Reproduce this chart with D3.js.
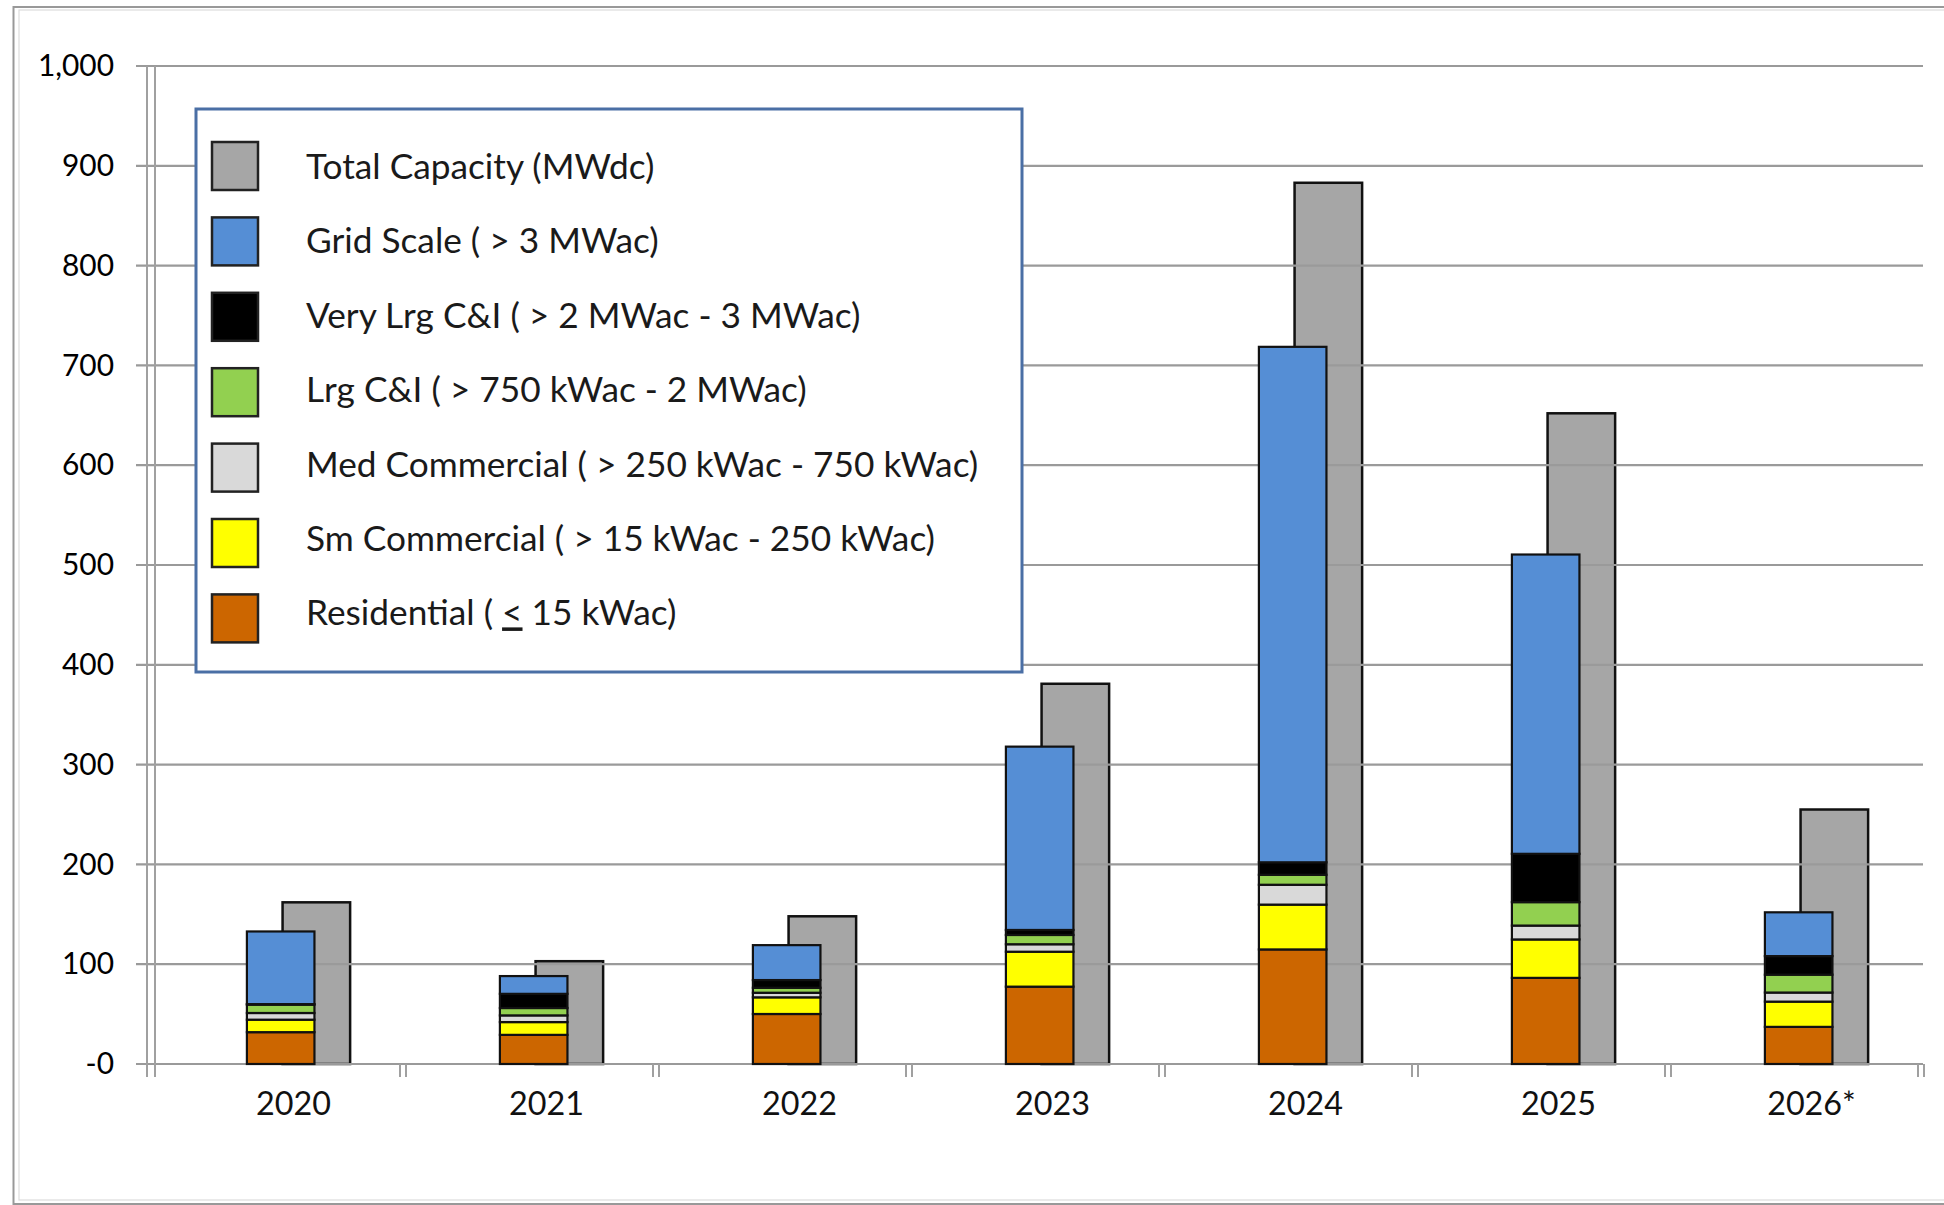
<!DOCTYPE html>
<html><head><meta charset="utf-8">
<script src="https://cdn.jsdelivr.net/npm/d3@7"></script>
<style>
html,body{margin:0;padding:0;background:#fff;}
svg{display:block;font-family:Lato,"Open Sans","DejaVu Sans",sans-serif;}
</style>
</head><body>
<svg id="chart" width="1944" height="1205"></svg>
<script>
// ---------------- DATA ----------------
const years = ["2020", "2021", "2022", "2023", "2024", "2025", "2026*"];
const residential   = [31.9, 29.2, 50.1, 77.5, 114.8, 86.3, 37.2];
const smCommercial  = [12.5, 12.8, 16.7, 35.0, 44.9, 38.5, 25.3];
const medCommercial = [6.7, 6.7, 4.6, 7.5, 19.9, 13.9, 9.1];
const lrgCI         = [8.4, 7.4, 5.0, 9.3, 10.0, 23.5, 17.9];
const veryLrgCI     = [0.5, 14.2, 7.7, 5.0, 12.5, 48.4, 18.6];
const gridScale     = [72.8, 17.8, 35.0, 183.7, 516.5, 299.9, 43.9];
const totalCapacity = [162, 103, 148, 381, 883, 652, 255];

const yTicks      = [0, 100, 200, 300, 400, 500, 600, 700, 800, 900, 1000];
const yTickLabels = ["-0", "100", "200", "300", "400", "500", "600", "700", "800", "900", "1,000"];

const stackKeys = ["residential", "smCommercial", "medCommercial", "lrgCI", "veryLrgCI", "gridScale"];
const legendKeys = ["total", "gridScale", "veryLrgCI", "lrgCI", "medCommercial", "smCommercial", "residential"];
const legendLabels = {
  total: "Total Capacity (MWdc)",
  gridScale: "Grid Scale ( > 3 MWac)",
  veryLrgCI: "Very Lrg C&I ( > 2 MWac - 3 MWac)",
  lrgCI: "Lrg C&I ( > 750 kWac - 2 MWac)",
  medCommercial: "Med Commercial ( > 250 kWac - 750 kWac)",
  smCommercial: "Sm Commercial ( > 15 kWac - 250 kWac)",
  residential: "Residential ( < 15 kWac)"
};

// ---------------- STYLE ----------------
const colors = {
  total: "#a6a6a6",
  gridScale: "#558ed5",
  veryLrgCI: "#000000",
  lrgCI: "#92d050",
  medCommercial: "#d9d9d9",
  smCommercial: "#ffff00",
  residential: "#cc6600"
};

const table = years.map((y, i) => ({
  year: y,
  residential: residential[i],
  smCommercial: smCommercial[i],
  medCommercial: medCommercial[i],
  lrgCI: lrgCI[i],
  veryLrgCI: veryLrgCI[i],
  gridScale: gridScale[i],
  total: totalCapacity[i]
}));
const stacked = d3.stack().keys(stackKeys)(table);

const svg = d3.select("#chart");
const W = 1944, H = 1205;
const plot = {left: 150, right: 1921, top: 66, bottom: 1064};

const x = d3.scaleBand().domain(years).range([plot.left, plot.right]).padding(0);
const y = d3.scaleLinear().domain([0, 1000]).range([plot.bottom, plot.top]);
const step = x.step();
const stackOff = 0.383 * step, totOff = 0.524 * step, barW = 0.267 * step;

function fitSize(text, target) {
  const t = svg.append("text").style("font-size", "100px").text(text);
  const w = t.node().getComputedTextLength();
  t.remove();
  return 100 * target / w;
}
const legendFont = (fitSize("Total Capacity (MWdc)", 350) + fitSize("Med Commercial ( > 250 kWac - 750 kWac)", 670)) / 2;
const yFont = fitSize("900", 52);
const xFont = fitSize("2023", 75);

// outer frame
svg.append("rect").attr("x", 13.5).attr("y", 7).attr("width", W + 20).attr("height", 1197)
  .attr("fill", "none").attr("stroke", "#999").attr("stroke-width", 2);
svg.append("rect").attr("x", 19).attr("y", 10).attr("width", W + 20).attr("height", 1190)
  .attr("fill", "none").attr("stroke", "#dcdcdc").attr("stroke-width", 1.2);

// total capacity bars (behind)
svg.append("g").selectAll("rect").data(table).join("rect")
  .attr("x", d => x(d.year) + totOff)
  .attr("y", d => y(d.total))
  .attr("width", barW)
  .attr("height", d => y(0) - y(d.total))
  .attr("fill", colors.total)
  .attr("stroke", "#111").attr("stroke-width", 2.5);

// gridlines
svg.append("g").selectAll("line").data(yTicks).join("line")
  .attr("x1", 136).attr("x2", plot.right + 2)
  .attr("y1", d => y(d)).attr("y2", d => y(d))
  .attr("stroke", "#9a9a9a").attr("stroke-width", 2.2);

// stacked bars
svg.append("g").selectAll("g").data(stacked).join("g")
  .attr("fill", s => colors[s.key])
  .selectAll("rect").data(s => s).join("rect")
  .attr("x", d => x(d.data.year) + stackOff)
  .attr("y", d => y(d[1]))
  .attr("width", barW)
  .attr("height", d => y(d[0]) - y(d[1]))
  .attr("stroke", "#111").attr("stroke-width", 2.2);

// y axis (double line)
[147, 155].forEach(px => {
  svg.append("line").attr("x1", px).attr("x2", px).attr("y1", plot.top).attr("y2", plot.bottom + 13)
    .attr("stroke", "#a0a0a0").attr("stroke-width", 2);
});

// x axis ticks (double) at category boundaries
const bounds = years.map(d => x(d)).concat([plot.right]);
svg.append("g").selectAll("g").data(bounds.slice(1)).join("g").each(function(b) {
  [-3, 3].forEach(o => d3.select(this).append("line")
    .attr("x1", b + o).attr("x2", b + o).attr("y1", plot.bottom).attr("y2", plot.bottom + 13)
    .attr("stroke", "#a0a0a0").attr("stroke-width", 2));
});

// y labels
svg.append("g").selectAll("text").data(yTicks).join("text")
  .attr("x", 114).attr("y", d => y(d) + yFont * 0.34)
  .attr("text-anchor", "end")
  .style("font-size", yFont + "px").attr("fill", "#000")
  .text((d, i) => yTickLabels[i]);

// x labels
svg.append("g").selectAll("text").data(years).join("text")
  .attr("x", d => x(d) + step / 2 + 17)
  .attr("y", 1115)
  .attr("text-anchor", "middle")
  .style("font-size", xFont + "px").attr("fill", "#111")
  .text(d => d);

// legend
const lg = svg.append("g");
lg.append("rect").attr("x", 196).attr("y", 109).attr("width", 826).attr("height", 563)
  .attr("fill", "#fff").attr("stroke", "#4a6fa5").attr("stroke-width", 3);
legendKeys.forEach((k, i) => {
  const cy = 166 + i * 75.4;
  const ty = 167 + i * 74.4;
  lg.append("rect").attr("x", 212).attr("y", cy - 24).attr("width", 46).attr("height", 48)
    .attr("fill", colors[k]).attr("stroke", "#222").attr("stroke-width", 2.5);
  const t = lg.append("text").attr("x", 306).attr("y", ty + legendFont * 0.34)
    .style("font-size", legendFont + "px").attr("fill", "#1a1a1a");
  if (k === "residential") {
    t.append("tspan").text("Residential ( ");
    t.append("tspan").attr("text-decoration", "underline").style("text-decoration", "underline").text("<");
    t.append("tspan").text(" 15 kWac)");
  } else {
    t.text(legendLabels[k]);
  }
});
</script>
</body></html>
